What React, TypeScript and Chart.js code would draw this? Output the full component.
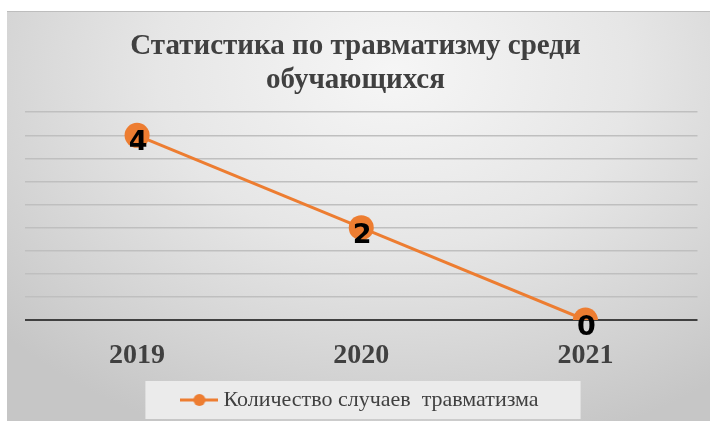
import React, { useEffect, useRef } from "react";
import { Chart, registerables } from "chart.js";

Chart.register(...registerables);

const categories = ["2019", "2020", "2021"];
const injuryCounts = [4, 2, 0];
const seriesLabel = "Количество случаев  травматизма";
const titleLines = ["Статистика по травматизму среди", "обучающихся"];
const yMin = 0;
const yMax = 4.5;
const yStep = 0.5;

const ORANGE = "#ED7D31";
const TEXT = "#404040";
const SERIF = "'Liberation Serif', 'Times New Roman', serif";
const SANS = "'DejaVu Sans', 'Liberation Sans', Arial, sans-serif";

function makeMarker(): HTMLCanvasElement {
  const c = document.createElement("canvas");
  c.width = 38;
  c.height = 14;
  const ctx = c.getContext("2d")!;
  ctx.strokeStyle = ORANGE;
  ctx.lineWidth = 3;
  ctx.beginPath();
  ctx.moveTo(0, 7);
  ctx.lineTo(38, 7);
  ctx.stroke();
  ctx.fillStyle = ORANGE;
  ctx.beginPath();
  ctx.arc(19, 7, 6, 0, Math.PI * 2);
  ctx.fill();
  return c;
}

const valueLabels = {
  id: "valueLabels",
  afterDatasetsDraw(chart: any) {
    const ctx = chart.ctx;
    chart.data.datasets.forEach((ds: any, i: number) => {
      const meta = chart.getDatasetMeta(i);
      meta.data.forEach((pt: any, j: number) => {
        ctx.save();
        ctx.font = `bold 27px ${SANS}`;
        ctx.fillStyle = "#000000";
        ctx.textAlign = "center";
        ctx.textBaseline = "alphabetic";
        ctx.fillText(String(ds.data[j]), pt.x + 1, pt.y + 15);
        ctx.restore();
      });
    });
  },
};

const shiftTitle = {
  id: "shiftTitle",
  afterLayout(chart: any) {
    const t = chart.titleBlock;
    if (t) {
      t.left -= 7;
      t.right -= 7;
    }
  },
};

const legendBackground = {
  id: "legendBackground",
  beforeDraw(chart: any) {
    const lg = chart.legend;
    if (!lg || !lg.legendHitBoxes || !lg.legendHitBoxes.length) return;
    const hb = lg.legendHitBoxes[0];
    const ctx = chart.ctx;
    const cy = hb.top + hb.height / 2;
    ctx.save();
    ctx.fillStyle = "#ebebeb";
    ctx.fillRect(hb.left - 41, cy - 19, hb.width + 41 + 42, 38);
    ctx.restore();
  },
};

export default function App() {
  const ref = useRef<HTMLCanvasElement | null>(null);

  useEffect(() => {
    if (!ref.current) return;
    const marker = makeMarker();
    const chart = new Chart(ref.current, {
      type: "line",
      data: {
        labels: categories,
        datasets: [
          {
            label: seriesLabel,
            data: injuryCounts,
            borderColor: ORANGE,
            backgroundColor: ORANGE,
            borderWidth: 3,
            pointRadius: 12.5,
            pointBorderWidth: 0,
            pointBackgroundColor: ORANGE,
            pointStyle: "circle",
            tension: 0,
          },
        ],
      },
      options: {
        animation: false,
        responsive: true,
        maintainAspectRatio: false,
        layout: { padding: { left: 18, right: 10, top: 0, bottom: 0 } },
        scales: {
          x: {
            offset: true,
            grid: { display: false, drawTicks: false },
            border: { display: false },
            ticks: {
              color: TEXT,
              padding: 19,
              font: { family: SERIF, size: 28, weight: "bold" },
            },
            afterFit: (s: any) => {
              s.height = 58;
            },
          },
          y: {
            min: yMin,
            max: yMax,
            ticks: { display: false, stepSize: yStep },
            border: { display: false },
            grid: {
              drawTicks: false,
              color: (c: any) => (c.tick && c.tick.value === 0 ? "#404040" : "#bfbfbf"),
              lineWidth: (c: any) => (c.tick && c.tick.value === 0 ? 2 : 1.5),
            },
          },
        },
        plugins: {
          title: {
            display: true,
            text: titleLines,
            color: TEXT,
            font: { family: SERIF, size: 29, weight: "bold", lineHeight: 1.15 },
            padding: { top: 19, bottom: 15.5 },
          },
          legend: {
            display: true,
            position: "bottom",
            labels: {
              color: TEXT,
              font: { family: SERIF, size: 22 },
              usePointStyle: true,
              pointStyleWidth: 26,
              boxHeight: 14,
              padding: 11,
              generateLabels: (ch: any) => {
                const items = (Chart.defaults.plugins.legend.labels as any).generateLabels(ch);
                items.forEach((it: any) => {
                  it.pointStyle = marker;
                });
                return items;
              },
            },
          },
          tooltip: { enabled: false },
        },
      },
      plugins: [valueLabels, legendBackground, shiftTitle],
    } as any);
    return () => chart.destroy();
  }, []);

  return (
    <div style={{ position: "fixed", left: 0, top: 0, width: 710, height: 421, background: "#ffffff" }}>
      <div
        style={{
          position: "absolute",
          left: 7,
          top: 11,
          width: 703,
          height: 410,
          background:
            "radial-gradient(ellipse 75% 95% at 55% 15%, #f6f6f6 0%, #e6e6e6 45%, #d2d2d2 80%, #c6c6c6 100%)",
          boxShadow: "inset 0 1px 0 #bdbdbd",
        }}
      >
        <canvas ref={ref} style={{ display: "block", width: 703, height: 410 }} />
      </div>
    </div>
  );
}
